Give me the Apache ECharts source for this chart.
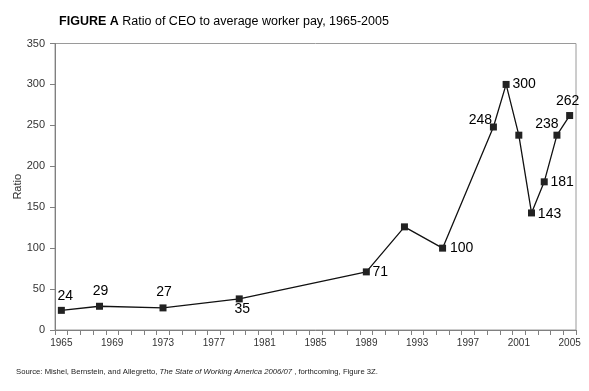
<!DOCTYPE html>
<html>
<head>
<meta charset="utf-8">
<script src="https://cdn.jsdelivr.net/npm/echarts@6/dist/echarts.min.js"></script>
<style>
html,body{margin:0;padding:0;background:#fff;}
#chart{width:589px;height:391px;}
</style>
</head>
<body>
<div id="chart"></div>
<script>
// ---- data ----
var categories = [];
for (var y = 1965; y <= 2005; y++) categories.push(String(y));
var years  = ['1965','1968','1973','1979','1989','1992','1995','1999','2000','2001','2002','2003','2004','2005'];
var values = [24, 29, 27, 38, 71, 126, 100, 248, 300, 238, 143, 181, 238, 262];
var labelTexts = ['24','29','27','35','71','','100','248','300','','143','181','238','262'];
var yTicks = [0, 50, 100, 150, 200, 250, 300, 350];

// label placement (layout only)
var labelOffsets = {
  '1965': [4, -14], '1968': [1, -15], '1973': [1, -16], '1979': [3, 10],
  '1989': [14, 0], '1995': [19, 0], '1999': [-13, -7], '2000': [18, 0],
  '2002': [18, 1], '2003': [18, 0], '2004': [-10, -11], '2005': [-2, -14]
};

var seriesData = years.map(function (yr, i) {
  var item = { value: [yr, values[i]] };
  if (labelTexts[i]) {
    item.label = {
      show: true,
      position: 'inside',
      offset: labelOffsets[yr],
      formatter: labelTexts[i]
    };
  }
  return item;
});

var chart = echarts.init(document.getElementById('chart'), null, { renderer: 'canvas' });
chart.setOption({
  backgroundColor: '#ffffff',
  animation: false,
  textStyle: { fontFamily: 'Liberation Sans, Arial, sans-serif' },
  title: [{
    left: 224, top: 15.5, textAlign: 'center', padding: 0,
    text: '{b|FIGURE A} Ratio of CEO to average worker pay, 1965-2005',
    textStyle: {
      fontSize: 12.5, fontWeight: 'normal', color: '#000',
      fontFamily: 'Liberation Sans, Arial, sans-serif',
      rich: { b: { fontSize: 12.5, fontWeight: 'bold', color: '#000', fontFamily: 'Liberation Sans, Arial, sans-serif' } }
    }
  }, {
    left: 16, top: 368, padding: 0,
    text: 'Source: Mishel, Bernstein, and Allegretto, {i|The State of Working America 2006/07} , forthcoming, Figure 3Z.',
    textStyle: {
      fontSize: 7.7, fontWeight: 'normal', color: '#222',
      fontFamily: 'Liberation Sans, Arial, sans-serif',
      rich: { i: { fontSize: 7.7, fontStyle: 'italic', color: '#222', fontFamily: 'Liberation Sans, Arial, sans-serif' } }
    }
  }],
  grid: {
    left: 55, right: 13, top: 43.5, bottom: 61,
    outerBoundsMode: 'none', containLabel: false,
    show: true, borderColor: '#9a9a9a', borderWidth: 1, backgroundColor: 'transparent'
  },
  xAxis: {
    type: 'category',
    data: categories,
    boundaryGap: true,
    axisLine: { lineStyle: { color: '#808080', width: 1 } },
    axisTick: { show: true, interval: 0, length: 5, inside: false, lineStyle: { color: '#808080' } },
    axisLabel: { interval: 3, color: '#333', fontSize: 10, margin: 8 },
    splitLine: { show: false }
  },
  yAxis: {
    type: 'value',
    min: yTicks[0], max: yTicks[yTicks.length - 1], interval: 50,
    name: 'Ratio', nameLocation: 'middle', nameRotate: 90, nameGap: 32,
    nameMoveOverlap: false,
    nameTextStyle: { fontSize: 11, color: '#333' },
    axisLine: { show: true, lineStyle: { color: '#808080', width: 1 } },
    axisTick: { show: true, length: 5, lineStyle: { color: '#808080' } },
    axisLabel: { color: '#333', fontSize: 11, margin: 10 },
    splitLine: { show: false }
  },
  series: [{
    type: 'line',
    data: seriesData,
    connectNulls: true,
    symbol: 'rect',
    symbolSize: 7,
    lineStyle: { color: '#111', width: 1.3 },
    itemStyle: { color: '#222', borderWidth: 0 },
    label: { show: false, fontSize: 14, color: '#000', align: 'center', verticalAlign: 'middle' },
    emphasis: { disabled: true }
  }]
});
</script>
</body>
</html>
